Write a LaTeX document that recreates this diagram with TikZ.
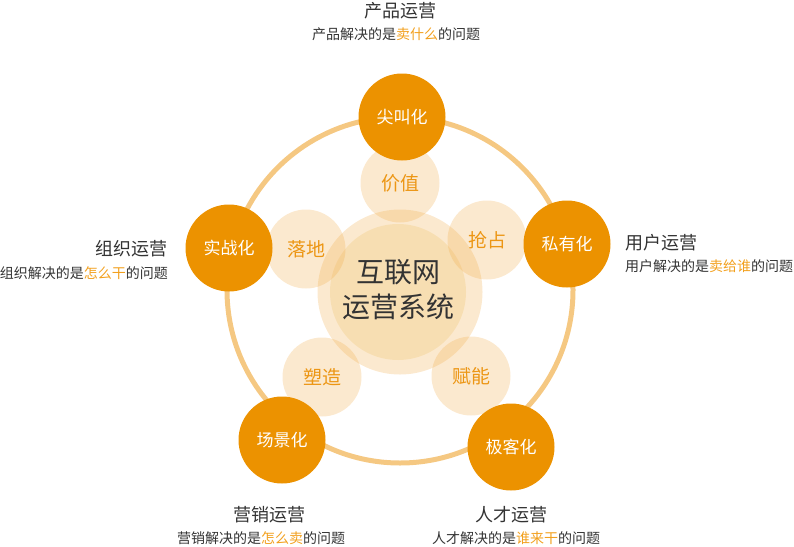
\documentclass[tikz,border=0pt]{standalone}
\usepackage{fontspec}
\setmainfont{Noto Sans CJK SC}
\definecolor{dorange}{RGB}{236,146,0}
\definecolor{ring}{RGB}{245,200,130}
\definecolor{petal}{RGB}{240,168,64}
\definecolor{petaltext}{RGB}{236,150,20}
\definecolor{hl}{RGB}{242,160,30}
\definecolor{txt}{RGB}{51,51,51}
\definecolor{innerc}{RGB}{247,220,172}
\begin{document}
\begin{tikzpicture}[x=1pt,y=-1pt,
  outerc/.style={circle,fill=dorange,minimum size=87pt,inner sep=0pt,text=white,font=\fontsize{17}{20}\selectfont},
  petalc/.style={circle,fill=petal,fill opacity=0.25,text opacity=1,minimum size=79pt,inner sep=0pt,text=petaltext,font=\fontsize{19}{22}\selectfont},
  titletxt/.style={inner sep=0pt,text=txt,font=\fontsize{18}{21}\selectfont},
  subtxt/.style={inner sep=0pt,text=txt,font=\fontsize{14}{16}\selectfont}]
\useasboundingbox (0,0) rectangle (794,546);
% ring
\node (ringc) [circle,draw=ring,line width=5pt,minimum size=346pt,inner sep=0pt] at (400,290) {};
% center circles
\node (cout) [circle,fill=petal,fill opacity=0.25,minimum size=165pt,inner sep=0pt] at (400,292) {};
\node (cin) [circle,fill=innerc,fill opacity=0.8,minimum size=136pt,inner sep=0pt] at (398,292) {};
\node (ctext) [align=center,text=txt,inner sep=0pt,font=\fontsize{28}{35}\selectfont] at (398,290) {互联网\\运营系统};
% petals
\node (p1) [petalc] at (400,183) {价值};
\node (p2) [petalc] at (487,240) {抢占};
\node (p3) [petalc] at (471,376) {赋能};
\node (p4) [petalc] at (322,377) {塑造};
\node (p5) [petalc] at (306,249) {落地};
% outer orange nodes
\node (o1) [outerc] at (402,117) {尖叫化};
\node (o2) [outerc] at (567,244) {私有化};
\node (o3) [outerc] at (511,447) {极客化};
\node (o4) [outerc] at (282,440) {场景化};
\node (o5) [outerc] at (229,248) {实战化};
% labels
\node (t1) [titletxt] at (400,11) {产品运营};
\node (s1) [subtxt] at (396,34) {产品解决的是\textcolor{hl}{卖什么}的问题};
\node (t2) [titletxt,anchor=west] at (625,243) {用户运营};
\node (s2) [subtxt,anchor=west] at (625,266) {用户解决的是\textcolor{hl}{卖给谁}的问题};
\node (t5) [titletxt,anchor=east] at (168,249) {组织运营};
\node (s5) [subtxt,anchor=east] at (168,273) {组织解决的是\textcolor{hl}{怎么干}的问题};
\node (t4) [titletxt] at (269,515) {营销运营};
\node (s4) [subtxt] at (261,538) {营销解决的是\textcolor{hl}{怎么卖}的问题};
\node (t3) [titletxt] at (511,515) {人才运营};
\node (s3) [subtxt] at (516,538) {人才解决的是\textcolor{hl}{谁来干}的问题};
\end{tikzpicture}
\end{document}
